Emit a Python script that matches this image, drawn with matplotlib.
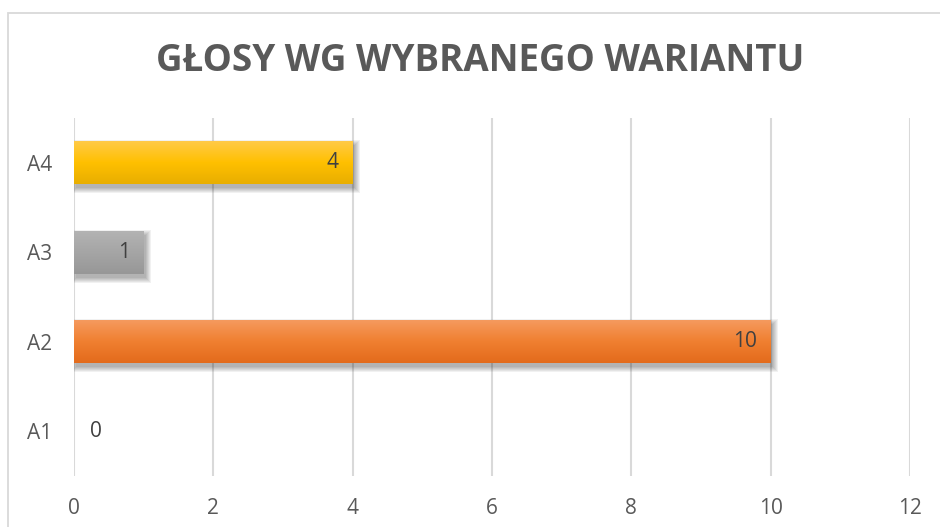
import matplotlib
matplotlib.use("Agg")
import matplotlib.pyplot as plt
import numpy as np
from matplotlib.colors import LinearSegmentedColormap
from matplotlib.patches import Rectangle

categories = ["A1", "A2", "A3", "A4"]
values = [0, 10, 1, 4]
top_colors = ["#6E9AD6", "#F59A5E", "#B3B3B3", "#FFCA47"]
mid_colors = ["#4472C4", "#F07F30", "#A5A5A5", "#FFC000"]
bot_colors = ["#3A62A8", "#E36B1C", "#979797", "#E8AE00"]
xticks = [0, 2, 4, 6, 8, 10, 12]
title = "GŁOSY WG WYBRANEGO WARIANTU"

W, H = 940, 527
fig = plt.figure(figsize=(W / 100, H / 100), dpi=100)
fig.patch.set_facecolor("white")

# chart border
fig.patches.append(Rectangle((8 / W, -0.05), 1.2, (H - 13) / H + 0.05, transform=fig.transFigure,
                             fill=False, edgecolor="#D9D9D9", linewidth=1.3))

ax = fig.add_axes([74 / W, 1 - 476 / H, (910 - 74) / W, (476 - 118) / H])
ax.set_xlim(0, 12)
ax.set_ylim(-0.5, len(categories) - 0.5)
ax.set_xticks(xticks)
ax.set_xticklabels([str(t) for t in xticks])
ax.set_yticks(range(len(categories)))
ax.set_yticklabels(categories)
ax.grid(axis="x", color="#D9D9D9", linewidth=1.5)
ax.set_axisbelow(True)
for s in ax.spines.values():
    s.set_visible(False)
ax.tick_params(axis="both", length=0, labelsize=15, labelcolor="#595959")
ax.tick_params(axis="x", pad=16)
ax.tick_params(axis="y", pad=16)
for lab in ax.get_xticklabels() + ax.get_yticklabels():
    lab.set_fontfamily("Open Sans")

# pixel sizes in data units
px_x = 12 / (910 - 74)
px_y = len(categories) / (476 - 118)

bar_h = 0.48
# soft shadows (offset down-right, blurred)
for i, v in enumerate(values):
    if v <= 0:
        continue
    for k in range(6):
        grow = k * 1.0
        ax.barh(i - 4 * px_y, v + 2 * grow * px_x, left=2 * px_x - grow * px_x,
                height=bar_h + 2 * grow * px_y, color="black", alpha=0.055, zorder=2, linewidth=0)

bars = ax.barh(range(len(categories)), values, height=bar_h, color=mid_colors, zorder=3, linewidth=0)
for i, (b, v) in enumerate(zip(bars, values)):
    if v <= 0:
        continue
    cmap = LinearSegmentedColormap.from_list("g%d" % i, [bot_colors[i], mid_colors[i], top_colors[i]])
    grad = np.linspace(0, 1, 100).reshape(-1, 1)
    im = ax.imshow(grad, cmap=cmap, aspect="auto", origin="lower",
                   extent=[0, v, i - bar_h / 2, i + bar_h / 2], zorder=4)
    im.set_clip_path(b)

for i, v in enumerate(values):
    if v > 0:
        ax.text(v - 14 * px_x, i, str(v), ha="right", va="center", fontsize=15, color="#404040",
                family="Open Sans", zorder=5)
    else:
        ax.text(v + 16 * px_x, i, str(v), ha="left", va="center", fontsize=15, color="#404040",
                family="Open Sans", zorder=5)

ax.set_xlim(0, 12)
ax.set_ylim(-0.5, len(categories) - 0.5)

fig.text(480 / W, 1 - 61 / H, title, ha="center", va="center", fontsize=26.5, fontweight="bold",
         color="#595959", family="Open Sans")

fig.savefig("out.png", dpi=100, facecolor="white")
